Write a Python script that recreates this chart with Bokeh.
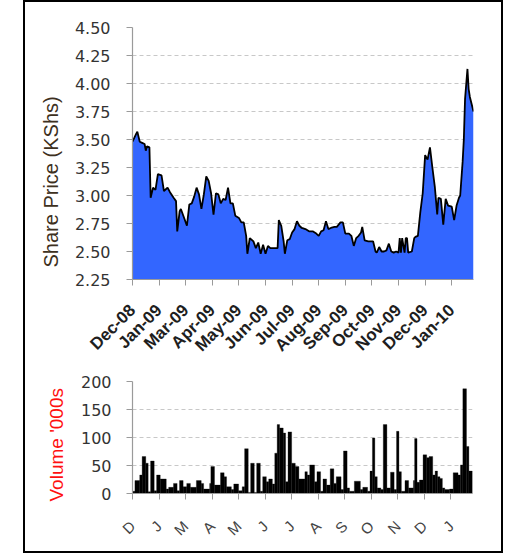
import math
from bokeh.plotting import figure
from bokeh.models import FixedTicker, Title, Spacer, NumeralTickFormatter
from bokeh.layouts import column, row
from bokeh.embed import file_html
from bokeh.resources import INLINE

# ---------------- data ----------------
# trading-day index of each price observation, and closing price (KShs)
price_day = [0, 3, 4, 6, 8, 10, 11, 12, 14, 15, 17, 19, 21, 24, 26, 29, 31, 34, 36, 37,
             39, 40, 43, 45, 47, 49, 51, 53, 55, 57, 59, 61, 63, 65, 67, 69, 71, 73, 75, 77,
             79, 81, 83, 85, 88, 90, 92, 94, 95, 97, 100, 102, 104, 106, 108, 110, 112, 114, 117, 120,
             121, 123, 125, 126, 128, 130, 132, 134, 136, 138, 140, 143, 146, 149, 152, 154, 156, 158, 160, 162,
             164, 167, 169, 172, 174, 176, 179, 181, 183, 185, 187, 189, 190, 192, 195, 199, 201, 202, 204, 206,
             208, 210, 212, 214, 216, 218, 220, 221, 222, 223, 225, 226, 227, 228, 231, 233, 234, 236, 238, 240,
             242, 244, 246, 248, 250, 252, 253, 255, 257, 259, 261, 264, 266, 268, 270, 271, 273, 274, 275, 277,
             278, 279, 282]
price = [3.48, 3.55, 3.57, 3.48, 3.47, 3.46, 3.40, 3.44, 3.43, 2.98, 3.07, 3.05, 3.19, 3.18, 3.04, 3.07, 3.03, 2.98, 2.95, 2.68,
         2.86, 2.88, 2.79, 2.73, 2.92, 2.93, 2.99, 3.07, 3.01, 2.88, 3.01, 3.17, 3.13, 3.02, 2.83, 3.02, 3.01, 2.93, 2.97, 2.96,
         3.07, 2.93, 2.93, 2.82, 2.80, 2.76, 2.76, 2.64, 2.48, 2.62, 2.59, 2.53, 2.58, 2.48, 2.56, 2.48, 2.55, 2.53, 2.53, 2.53,
         2.78, 2.73, 2.59, 2.48, 2.60, 2.61, 2.67, 2.70, 2.77, 2.73, 2.71, 2.70, 2.68, 2.68, 2.66, 2.64, 2.68, 2.69, 2.77, 2.70,
         2.71, 2.72, 2.72, 2.76, 2.76, 2.66, 2.66, 2.64, 2.55, 2.62, 2.64, 2.67, 2.72, 2.60, 2.59, 2.59, 2.50, 2.49, 2.54, 2.50,
         2.50, 2.51, 2.57, 2.50, 2.49, 2.50, 2.49, 2.62, 2.49, 2.62, 2.49, 2.62, 2.62, 2.49, 2.50, 2.62, 2.63, 2.64, 2.85, 3.02,
         3.36, 3.32, 3.43, 3.25, 3.08, 2.83, 2.98, 2.97, 2.74, 2.97, 2.91, 2.90, 2.78, 2.91, 2.98, 3.00, 3.30, 3.50, 3.86, 4.13,
         3.95, 3.88, 3.75]

# trading-day index where each volume block starts, and volume ('000s)
vol_day = [0, 2, 6, 8, 11, 13, 15, 18, 20, 23, 28, 30, 34, 37, 39, 42, 45, 48, 53, 57,
           59, 64, 65, 68, 73, 76, 78, 82, 84, 88, 91, 93, 96, 98, 101, 103, 106, 108, 111, 113,
           116, 118, 120, 122, 125, 127, 129, 132, 135, 138, 143, 145, 147, 151, 153, 156, 158, 161, 164, 167,
           169, 173, 175, 178, 180, 184, 189, 191, 195, 197, 199, 201, 203, 206, 208, 211, 214, 217, 219, 221,
           223, 226, 229, 233, 234, 236, 238, 241, 244, 246, 249, 251, 253, 255, 257, 259, 263, 266, 270, 272,
           274, 277, 279]
volume = [4, 23, 33, 66, 54, 3, 58, 5, 33, 26, 8, 11, 18, 5, 23, 12, 18, 11, 23, 18,
          8, 18, 48, 15, 37, 30, 12, 7, 17, 5, 12, 80, 2, 54, 2, 54, 4, 30, 21, 26,
          17, 72, 123, 117, 108, 21, 110, 54, 48, 26, 39, 33, 51, 21, 39, 4, 26, 15, 44, 18,
          30, 7, 76, 10, 4, 22, 7, 11, 4, 40, 99, 30, 10, 7, 123, 10, 38, 7, 111, 39,
          4, 23, 10, 23, 98, 20, 24, 69, 64, 66, 33, 40, 30, 27, 10, 7, 8, 37, 33, 51,
          187, 84, 40]
last_day = 282

tick_day = [0, 22, 44, 66, 88, 110, 132, 154, 176, 198, 220, 242, 264]
price_month_labels = ["Dec-08", "Jan-09", "Mar-09", "Apr-09", "May-09", "Jun-09", "Jul-09",
                      "Aug-09", "Sep-09", "Oct-09", "Nov-09", "Dec-09", "Jan-10"]
vol_month_labels = ["D", "J", "M", "A", "M", "J", "J", "A", "S", "O", "N", "D", "J"]
price_ticks = [2.25, 2.50, 2.75, 3.00, 3.25, 3.50, 3.75, 4.00, 4.25, 4.50]
vol_ticks = [0, 50, 100, 150, 200]

AXIS_GRAY = "#9a9a9a"
GRID_GRAY = "#c8c8c8"
TICK_FONT = "DejaVu Sans"


def style_axes(p, yticks, xlabels, xfont, xsize, xstyle, xcolor, xstandoff, ystandoff):
    p.xgrid.visible = False
    p.ygrid.ticker = FixedTicker(ticks=yticks)
    p.ygrid.grid_line_color = GRID_GRAY
    p.ygrid.grid_line_dash = "4 3"
    p.ygrid.grid_line_width = 1
    for ax in (p.xaxis[0], p.yaxis[0]):
        ax.axis_line_color = AXIS_GRAY
        ax.axis_line_width = 1.2
        ax.major_tick_line_color = AXIS_GRAY
        ax.major_tick_in = 0
        ax.major_tick_out = 6
        ax.minor_tick_line_color = None
    xa = p.xaxis[0]
    xa.ticker = FixedTicker(ticks=tick_day)
    xa.major_label_overrides = {d: lab for d, lab in zip(tick_day, xlabels)}
    xa.major_label_orientation = math.pi / 4
    xa.major_label_text_font = xfont
    xa.major_label_text_font_size = xsize
    xa.major_label_text_font_style = xstyle
    xa.major_label_text_color = xcolor
    xa.major_label_standoff = xstandoff
    ya = p.yaxis[0]
    ya.ticker = FixedTicker(ticks=yticks)
    ya.major_label_text_font = TICK_FONT
    ya.major_label_text_font_size = "16px"
    ya.major_label_text_color = "#333333"
    ya.major_label_standoff = ystandoff


# ---------------- price chart ----------------
p1 = figure(frame_width=341, frame_height=252,
            min_border_left=105, min_border_right=30, min_border_top=25, min_border_bottom=80,
            x_range=(0, last_day), y_range=(price_ticks[0], price_ticks[-1]),
            output_backend="svg", toolbar_location=None,
            background_fill_color="white", border_fill_color="white", outline_line_color=None)
p1.varea(x=price_day, y1=price_ticks[0], y2=price, fill_color="#3366FF", fill_alpha=1.0)
p1.line(x=price_day, y=price, line_color="black", line_width=1.8)
style_axes(p1, price_ticks, price_month_labels, "Liberation Sans", "17px", "bold", "#1e1e1e", 22, 16)
p1.yaxis[0].formatter = NumeralTickFormatter(format="0.00")
p1.add_layout(Title(text="Share Price (KShs)", align="left", offset=12, standoff=19,
                    text_font="Liberation Sans", text_font_size="20px", text_font_style="normal",
                    text_color="#3d3020"), "left")

# ---------------- volume chart ----------------
vol_right = vol_day[1:] + [last_day]
p2 = figure(frame_width=340, frame_height=112,
            min_border_left=107, min_border_right=29, min_border_top=17, min_border_bottom=58,
            x_range=(0, last_day), y_range=(vol_ticks[0], vol_ticks[-1]),
            output_backend="svg", toolbar_location=None,
            background_fill_color="white", border_fill_color="white", outline_line_color=None)
p2.quad(left=vol_day, right=vol_right, bottom=0, top=volume,
        fill_color="black", line_color="black", line_width=0.3)
style_axes(p2, vol_ticks, vol_month_labels, "Liberation Sans", "15px", "normal", "#444444", 24, 15)
p2.add_layout(Title(text="Volume '000s", align="left", offset=-8, standoff=22,
                    text_font="Liberation Sans", text_font_size="19px", text_font_style="normal",
                    text_color="#ff1010"), "left")

box = column(p1, p2, styles={"border": "2px solid black"})
layout = row(Spacer(width=23, height=10), box)

open("out.html", "w").write(file_html(layout, INLINE))
